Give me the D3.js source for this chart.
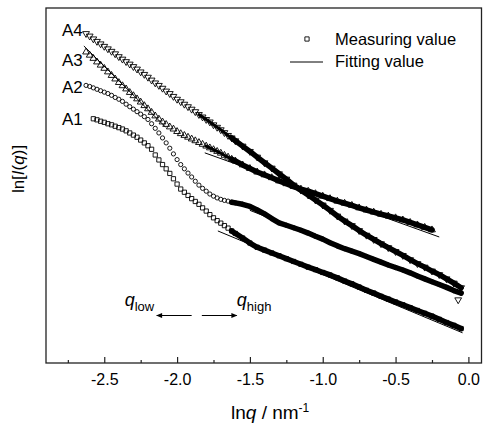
<!DOCTYPE html>
<html>
<head>
<meta charset="utf-8">
<script src="https://cdn.jsdelivr.net/npm/d3@7"></script>
<style>
  body { margin: 0; background: #fff; }
  text { font-family: "Liberation Sans", Arial, sans-serif; fill: #000; }
</style>
</head>
<body>
<div class="chart"></div>
<script>
var w = 483, h = 426;

// shared lnq grid (nm^-1, log), finer where markers are still separate
var lnq = [-2.625, -2.6, -2.575, -2.55, -2.525, -2.5, -2.475, -2.45, -2.425, -2.4,
	-2.375, -2.35, -2.325, -2.3, -2.275, -2.25, -2.225, -2.2, -2.175, -2.15,
	-2.125, -2.1, -2.075, -2.05, -2.025, -2.0, -1.975, -1.95, -1.925, -1.9,
	-1.875, -1.85, -1.825, -1.8, -1.775, -1.75, -1.725, -1.7, -1.675, -1.65, -1.625,
	-1.6, -1.55, -1.5, -1.45, -1.4, -1.35, -1.3, -1.25, -1.2, -1.15, -1.1, -1.05,
	-1.0, -0.95, -0.9, -0.85, -0.8, -0.75, -0.7, -0.65, -0.6, -0.55, -0.5, -0.45,
	-0.4, -0.35, -0.3, -0.25, -0.2, -0.15, -0.1, -0.05];

// ln I(q), arbitrary units
var a4 = [9.28, 9.21, 9.13, 9.06, 8.99, 8.92, 8.85, 8.78, 8.71, 8.63,
	8.56, 8.49, 8.42, 8.35, 8.28, 8.20, 8.13, 8.05, 7.97, 7.89,
	7.82, 7.74, 7.66, 7.59, 7.51, 7.43, 7.36, 7.29, 7.22, 7.15,
	7.08, 7.00, 6.93, 6.86, 6.79, 6.71, 6.64, 6.57, 6.49, 6.41, 6.34,
	6.26, 6.11, 5.96, 5.80, 5.64, 5.49, 5.33, 5.18, 5.01, 4.87, 4.73, 4.59,
	4.45, 4.30, 4.14, 4.00, 3.87, 3.73, 3.60, 3.48, 3.36, 3.25, 3.14, 3.03,
	2.91, 2.80, 2.70, 2.59, 2.49, 2.37, 2.25, 2.12];
var a3 = [8.76, 8.67, 8.58, 8.48, 8.39, 8.30, 8.20, 8.10, 8.00, 7.90,
	7.81, 7.72, 7.62, 7.53, 7.44, 7.35, 7.25, 7.16, 7.06, 6.96,
	6.87, 6.79, 6.72, 6.65, 6.59, 6.52, 6.46, 6.41, 6.36, 6.31,
	6.26, 6.21, 6.16, 6.11, 6.06, 6.01, 5.96, 5.91, 5.85, 5.80, 5.74,
	5.69, 5.58, 5.48, 5.38, 5.30, 5.22, 5.13, 5.05, 4.97, 4.90, 4.84, 4.77,
	4.70, 4.63, 4.56, 4.50, 4.44, 4.37, 4.31, 4.25, 4.19, 4.14, 4.09, 4.03,
	3.96, 3.89, 3.82, 3.75, null, null, null, null];
var a2 = [7.82, 7.79, 7.75, 7.71, 7.67, 7.63, 7.59, 7.54, 7.48, 7.43,
	7.37, 7.29, 7.22, 7.15, 7.08, 7.01, 6.94, 6.86, 6.74, 6.61,
	6.48, 6.34, 6.20, 6.05, 5.89, 5.73, 5.59, 5.47, 5.35, 5.24,
	5.12, 5.01, 4.92, 4.84, 4.76, 4.70, 4.65, 4.61, 4.58, 4.56, 4.53,
	4.51, 4.47, 4.41, 4.31, 4.20, 4.07, 3.95, 3.88, 3.81, 3.74, 3.66, 3.57,
	3.49, 3.39, 3.30, 3.22, 3.15, 3.08, 3.00, 2.92, 2.84, 2.76, 2.69, 2.62,
	2.54, 2.45, 2.37, 2.29, 2.21, 2.13, 2.04, 1.97];
var a1 = [null, null, 6.88, 6.85, 6.81, 6.78, 6.74, 6.71, 6.67, 6.63,
	6.59, 6.54, 6.48, 6.42, 6.36, 6.28, 6.20, 6.12, 6.02, 5.86,
	5.72, 5.59, 5.47, 5.34, 5.19, 5.04, 4.90, 4.81, 4.72, 4.63,
	4.55, 4.47, 4.37, 4.28, 4.18, 4.09, 4.01, 3.94, 3.87, 3.80, 3.72,
	3.65, 3.52, 3.38, 3.26, 3.18, 3.10, 3.02, 2.94, 2.86, 2.78, 2.70, 2.63,
	2.55, 2.48, 2.40, 2.31, 2.23, 2.14, 2.05, 1.97, 1.88, 1.80, 1.72, 1.64,
	1.56, 1.48, 1.40, 1.32, 1.23, 1.14, 1.06, 0.97];
var a4Stray = [[-0.07, 1.78]];

// linear fits, [lnq, lnI] end points
var fitA3Low = [[-2.64, 8.93], [-2.08, 6.65]];
var fitA3High = [[-1.81, 5.92], [-0.20, 3.55]];
var fitA2High = [[-1.50, 4.30], [-0.05, 1.96]];
var fitA1High = [[-1.72, 3.72], [-0.04, 0.85]];
var fitA4High = [[-0.90, 4.14], [-0.05, 2.12]];

var seriesNames = ['A4', 'A3', 'A2', 'A1'];
var xTicks = [-2.5, -2.0, -1.5, -1.0, -0.5, 0.0];
var xMinor = [-2.75, -2.25, -1.75, -1.25, -0.75, -0.25];

var margin = { left: 46, top: 8, right: 481.5, bottom: 363 };

var x = d3.scaleLinear().domain([-2.9, 0.09]).range([margin.left, margin.right]);
var y = d3.scaleLinear().domain([0, 10]).range([margin.bottom, margin.top]);

var svg = d3.select('.chart').append('svg')
	.attr('width', w)
	.attr('height', h);

var defs = svg.append('defs');
defs.append('marker')
	.attr('id', 'head')
	.attr('viewBox', '0 0 10 10')
	.attr('refX', 9).attr('refY', 5)
	.attr('markerWidth', 8).attr('markerHeight', 6)
	.attr('markerUnits', 'userSpaceOnUse')
	.attr('orient', 'auto')
	.append('path').attr('d', 'M0,1L10,5L0,9z').attr('fill', '#000');

function pts(vals) {
	return lnq.map(function(q, i) { return [q, vals[i]]; })
		.filter(function(d) { return d[1] != null; });
}

// band = where the markers pile up into a solid trace
var series = [
	{ name: 'A4', data: pts(a4), shape: d3.symbolTriangle, size: 20, rot: 180, band: -1.85 },
	{ name: 'A3', data: pts(a3), shape: d3.symbolTriangle, size: 20, rot: 0, band: -1.8 },
	{ name: 'A2', data: pts(a2), shape: d3.symbolCircle, size: 14, rot: 0, band: -1.6 },
	{ name: 'A1', data: pts(a1), shape: d3.symbolSquare, size: 18, rot: 0, band: -1.6 }
];

var line = d3.line()
	.x(function(d) { return x(d[0]); })
	.y(function(d) { return y(d[1]); });

svg.selectAll('path.band')
	.data(series)
	.enter()
	.append('path')
		.attr('class', 'band')
		.attr('fill', 'none')
		.attr('stroke', '#000')
		.attr('stroke-width', function(s) { return s.band < -1.7 ? 3 : 5; })
		.attr('stroke-linejoin', 'round')
		.attr('stroke-linecap', 'round')
		.attr('d', function(s) {
			return line(s.data.filter(function(d) { return d[0] >= s.band && d[0] < -1.6; }));
		});

svg.selectAll('path.band2')
	.data(series)
	.enter()
	.append('path')
		.attr('class', 'band2')
		.attr('fill', 'none')
		.attr('stroke', '#000')
		.attr('stroke-width', 5.5)
		.attr('stroke-linejoin', 'round')
		.attr('stroke-linecap', 'round')
		.attr('d', function(s) {
			return line(s.data.filter(function(d) { return d[0] >= -1.625; }));
		});

series.forEach(function(s) {
	var sym = d3.symbol().type(s.shape).size(s.size);
	svg.append('g').selectAll('path')
		.data(s.data)
		.enter()
		.append('path')
			.attr('transform', function(d) {
				return 'translate(' + [x(d[0]), y(d[1])] + ') rotate(' + s.rot + ')';
			})
			.attr('d', sym)
			.attr('fill', 'none')
			.attr('stroke', '#000')
			.attr('stroke-width', 0.9);
});

svg.selectAll('path.stray')
	.data(a4Stray)
	.enter()
	.append('path')
		.attr('class', 'stray')
		.attr('transform', function(d) { return 'translate(' + [x(d[0]), y(d[1])] + ') rotate(180)'; })
		.attr('d', d3.symbol().type(d3.symbolTriangle).size(20))
		.attr('fill', 'none')
		.attr('stroke', '#000')
		.attr('stroke-width', 0.9);

svg.selectAll('path.fit')
	.data([fitA3Low, fitA3High, fitA2High, fitA1High, fitA4High])
	.enter()
	.append('path')
		.attr('class', 'fit')
		.attr('fill', 'none')
		.attr('stroke', '#000')
		.attr('stroke-width', 1)
		.attr('d', line);

// series labels next to the first point of each curve
var labelY = [9.38, 8.54, 7.77, 6.88];
svg.selectAll('text.lab')
	.data(seriesNames)
	.enter()
	.append('text')
		.attr('class', 'lab')
		.attr('x', 62)
		.attr('y', function(d, i) { return y(labelY[i]) + 6; })
		.style('font-size', '17px')
		.text(function(d) { return d; });

// frame
svg.append('rect')
	.attr('x', margin.left).attr('y', margin.top)
	.attr('width', margin.right - margin.left)
	.attr('height', margin.bottom - margin.top)
	.attr('fill', 'none')
	.attr('stroke', '#222')
	.attr('stroke-width', 1.3);

var xAxis = svg.append('g')
	.attr('transform', 'translate(0,' + margin.bottom + ')')
	.call(d3.axisBottom(x)
		.tickValues(xTicks)
		.tickSize(-6)
		.tickSizeOuter(0)
		.tickPadding(10.5)
		.tickFormat(function(d) { return d.toFixed(1); }));
xAxis.select('.domain').remove();
xAxis.selectAll('line').attr('stroke', '#222').attr('stroke-width', 1.2);
xAxis.selectAll('text').style('font-size', '16px').style('font-family', '"Liberation Sans", Arial, sans-serif');

var xMinorAxis = svg.append('g')
	.attr('transform', 'translate(0,' + margin.bottom + ')')
	.call(d3.axisBottom(x).tickValues(xMinor).tickSize(-3).tickSizeOuter(0).tickFormat(''));
xMinorAxis.select('.domain').remove();
xMinorAxis.selectAll('line').attr('stroke', '#222').attr('stroke-width', 1.2);

// axis titles
var xt = svg.append('text')
	.attr('x', 231).attr('y', 418.5)
	.style('font-size', '19px');
xt.append('tspan').text('ln');
xt.append('tspan').style('font-style', 'italic').text('q');
xt.append('tspan').text(' / nm');
xt.append('tspan').attr('dy', -7).style('font-size', '12px').text('-1');

var yt = svg.append('text')
	.attr('transform', 'translate(24,169) rotate(-90)')
	.attr('text-anchor', 'middle')
	.style('font-size', '17px');
yt.append('tspan').text('ln[');
yt.append('tspan').style('font-style', 'italic').text('I');
yt.append('tspan').text('(');
yt.append('tspan').style('font-style', 'italic').text('q');
yt.append('tspan').text(')]');

// legend
svg.append('path')
	.attr('transform', 'translate(307,39)')
	.attr('d', d3.symbol().type(d3.symbolSquare).size(18))
	.attr('fill', 'none').attr('stroke', '#000').attr('stroke-width', 0.9);
svg.append('text').attr('x', 335).attr('y', 44.5).style('font-size', '16.5px').text('Measuring value');
svg.append('line')
	.attr('x1', 290).attr('x2', 323).attr('y1', 62).attr('y2', 62)
	.attr('stroke', '#000').attr('stroke-width', 1);
svg.append('text').attr('x', 335).attr('y', 67).style('font-size', '16.5px').text('Fitting value');

// q_low / q_high annotation
function qLabel(xq, sub) {
	var t = svg.append('text').attr('x', x(xq)).attr('y', 305.5).style('font-size', '18px');
	t.append('tspan').style('font-style', 'italic').text('q');
	t.append('tspan').attr('dy', 5).style('font-size', '13px').text(sub);
}
qLabel(-2.36, 'low');
qLabel(-1.59, 'high');

svg.append('line')
	.attr('x1', x(-1.90)).attr('x2', x(-2.14)).attr('y1', 315.5).attr('y2', 315.5)
	.attr('stroke', '#000').attr('stroke-width', 1).attr('marker-end', 'url(#head)');
svg.append('line')
	.attr('x1', x(-1.83)).attr('x2', x(-1.59)).attr('y1', 315.5).attr('y2', 315.5)
	.attr('stroke', '#000').attr('stroke-width', 1).attr('marker-end', 'url(#head)');
</script>
</body>
</html>
